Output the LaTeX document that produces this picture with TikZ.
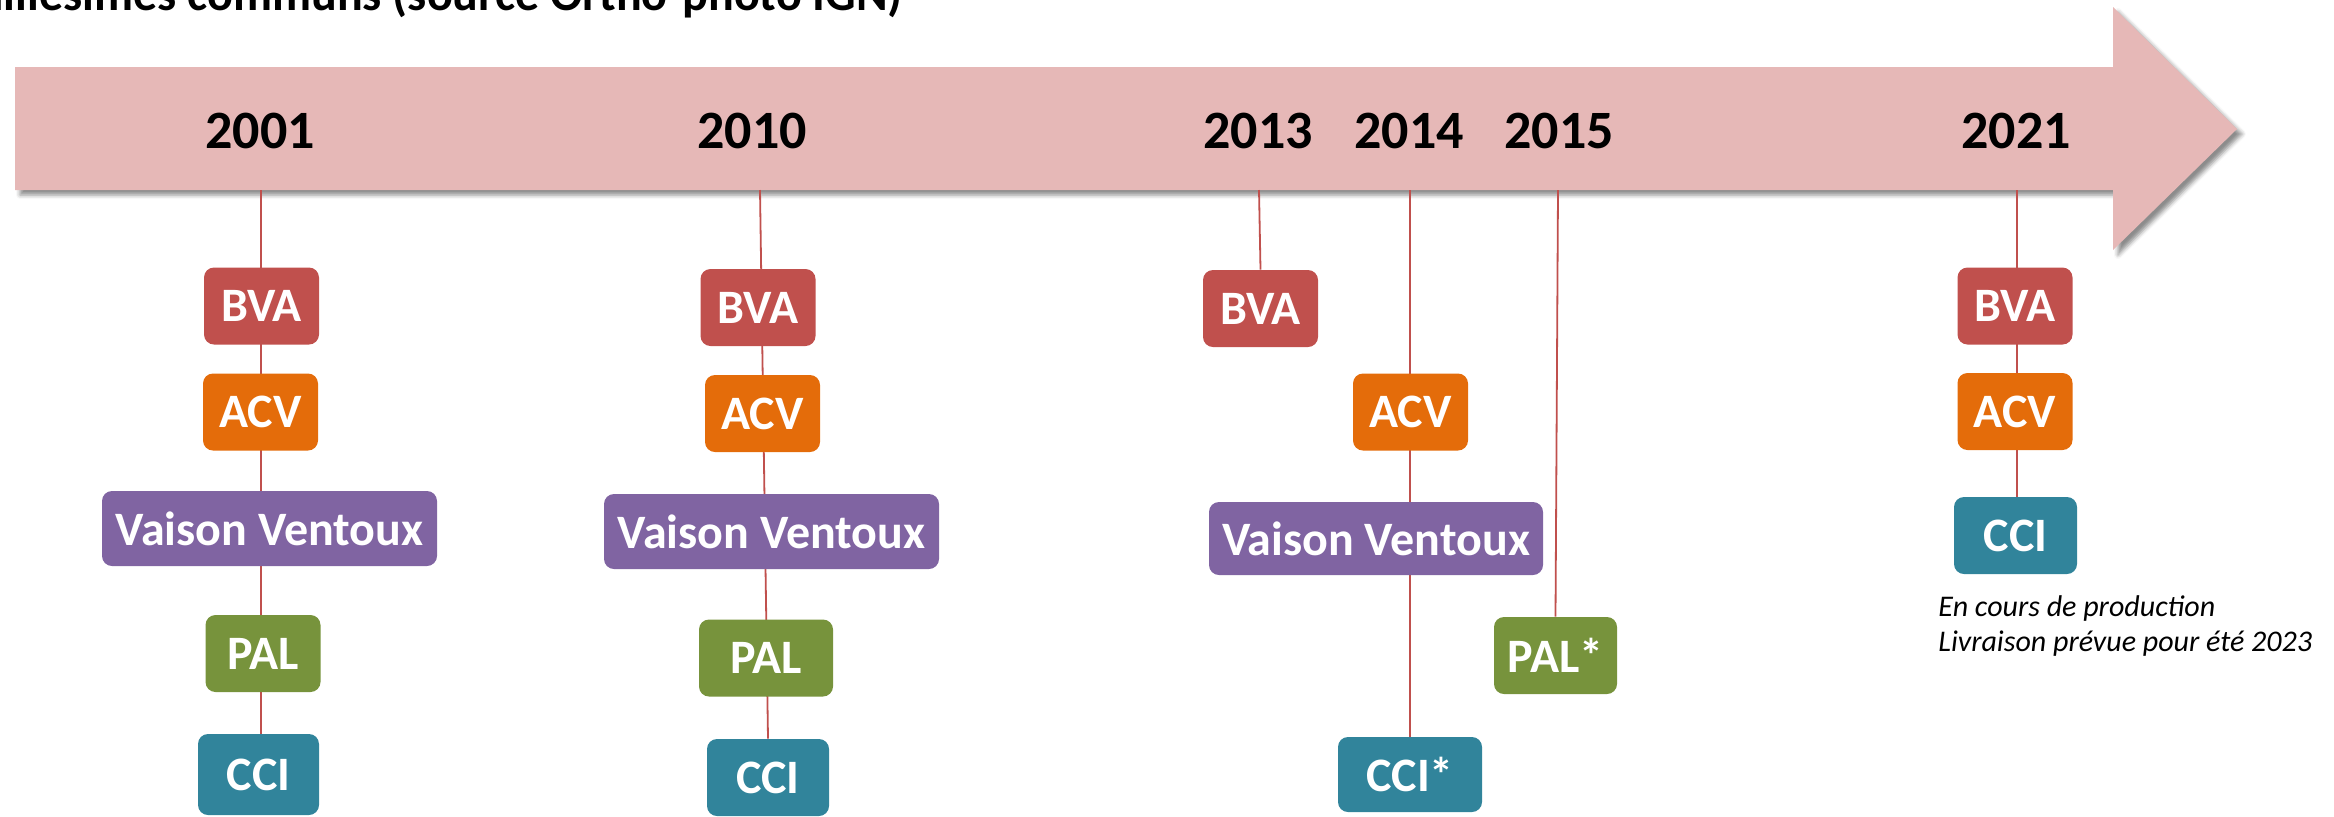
\documentclass[tikz,border=0pt]{standalone}
\usepackage{fontspec}
\setmainfont{Carlito}
\usetikzlibrary{backgrounds,shadows.blur}

\begin{document}
\begin{tikzpicture}[x=0.5pt,y=-0.5pt,
 box/.style={rounded corners=5pt,inner sep=0pt,minimum width=57.5pt,minimum height=38.5pt,
  text=white,font=\bfseries\fontsize{24}{28}\selectfont},
 year/.style={inner sep=0pt,font=\bfseries\fontsize{27}{32}\selectfont},
 link/.style={draw=bvared,line width=0.9pt}]
 \definecolor{timeline}{HTML}{E6B8B7}
 \definecolor{bvared}{HTML}{C0504D}
 \definecolor{acvorange}{HTML}{E46C0A}
 \definecolor{vvpurple}{HTML}{8064A2}
 \definecolor{palgreen}{HTML}{77933C}
 \definecolor{ccicyan}{HTML}{31849B}
 \useasboundingbox (0,0) rectangle (2334,816);
 % title, cut by the page edge
 \node[anchor=base east,inner sep=0pt,font=\bfseries\fontsize{24}{29}\selectfont] (title) at (903,10) {Millésimes communs (source Ortho-photo IGN)};
 % the time arrow
 \begin{scope}[on background layer]
 \fill[timeline,blur shadow={shadow xshift=2.5pt,shadow yshift=-2.5pt,shadow blur radius=2pt,shadow opacity=45}]
 (15,67) -- (2113,67) -- (2113,7) -- (2237,129) -- (2113,250) -- (2113,190) -- (15,190) -- cycle;
 \end{scope}
 \node[year] (y01) at (260,131) {2001};
 \node[year] (y10) at (752,131) {2010};
 \node[year] (y13) at (1258,131) {2013};
 \node[year] (y14) at (1409,131) {2014};
 \node[year] (y15) at (1559,131) {2015};
 \node[year] (y21) at (2016,131) {2021};
 \coordinate (t01) at (261,190);
 \coordinate (t10) at (760,190);
 \coordinate (t13) at (1259,190);
 \coordinate (t14) at (1410,190);
 \coordinate (t15) at (1558,190);
 \coordinate (t21) at (2017,190);
 % 2001
 \node[box,fill=bvared] (bva01) at (261.5,306) {BVA};
 \node[box,fill=acvorange] (acv01) at (260.5,412) {ACV};
 \node[box,fill=vvpurple,minimum width=167.5pt,minimum height=37.5pt] (vv01) at (269.5,528.5) {Vaison Ventoux};
 \node[box,fill=palgreen] (pal01) at (263,653.5) {PAL};
 \node[box,fill=ccicyan,minimum width=60.5pt,minimum height=40.5pt] (cci01) at (258.5,774.5) {CCI};
 % 2010
 \node[box,fill=bvared] (bva10) at (758,307.5) {BVA};
 \node[box,fill=acvorange] (acv10) at (762.5,413.5) {ACV};
 \node[box,fill=vvpurple,minimum width=167.5pt,minimum height=37.5pt] (vv10) at (771.5,531.5) {Vaison Ventoux};
 \node[box,fill=palgreen,minimum width=67pt] (pal10) at (766,658) {PAL};
 \node[box,fill=ccicyan,minimum width=61pt] (cci10) at (768,777.5) {CCI};
 % 2013, 2014, 2015
 \node[box,fill=bvared] (bva13) at (1260.5,308.5) {BVA};
 \node[box,fill=acvorange] (acv14) at (1410.5,412) {ACV};
 \node[box,fill=vvpurple,minimum width=167pt,minimum height=36.5pt] (vv14) at (1376,538.5) {Vaison Ventoux};
 \node[box,fill=ccicyan,minimum width=72pt,minimum height=37.5pt] (cci14) at (1410,774.5) {CCI*};
 \node[box,fill=palgreen,minimum width=61.5pt] (pal15) at (1555.5,655.5) {PAL*};
 % 2021
 \node[box,fill=bvared] (bva21) at (2015,306) {BVA};
 \node[box,fill=acvorange] (acv21) at (2015,411.5) {ACV};
 \node[box,fill=ccicyan,minimum width=61.5pt] (cci21) at (2015.5,535.5) {CCI};
 \node[anchor=north west,inner sep=0pt,align=left,font=\itshape\fontsize{15}{17.5}\selectfont] (note) at (1938,595)
  {En cours de production\\Livraison prévue pour été 2023};
 % links behind the boxes
 \begin{scope}[on background layer]
 \draw[link] (t01) -- (t01 |- cci01.north);
 \draw[link] (t10) -- (cci10.north);
 \draw[link] (t13) -- (bva13.north);
 \draw[link] (t14) -- (cci14.north);
 \draw[link] (t15) -- (pal15.north);
 \draw[link] (t21) -- (t21 |- cci21.north);
 \end{scope}
\end{tikzpicture}
\end{document}
